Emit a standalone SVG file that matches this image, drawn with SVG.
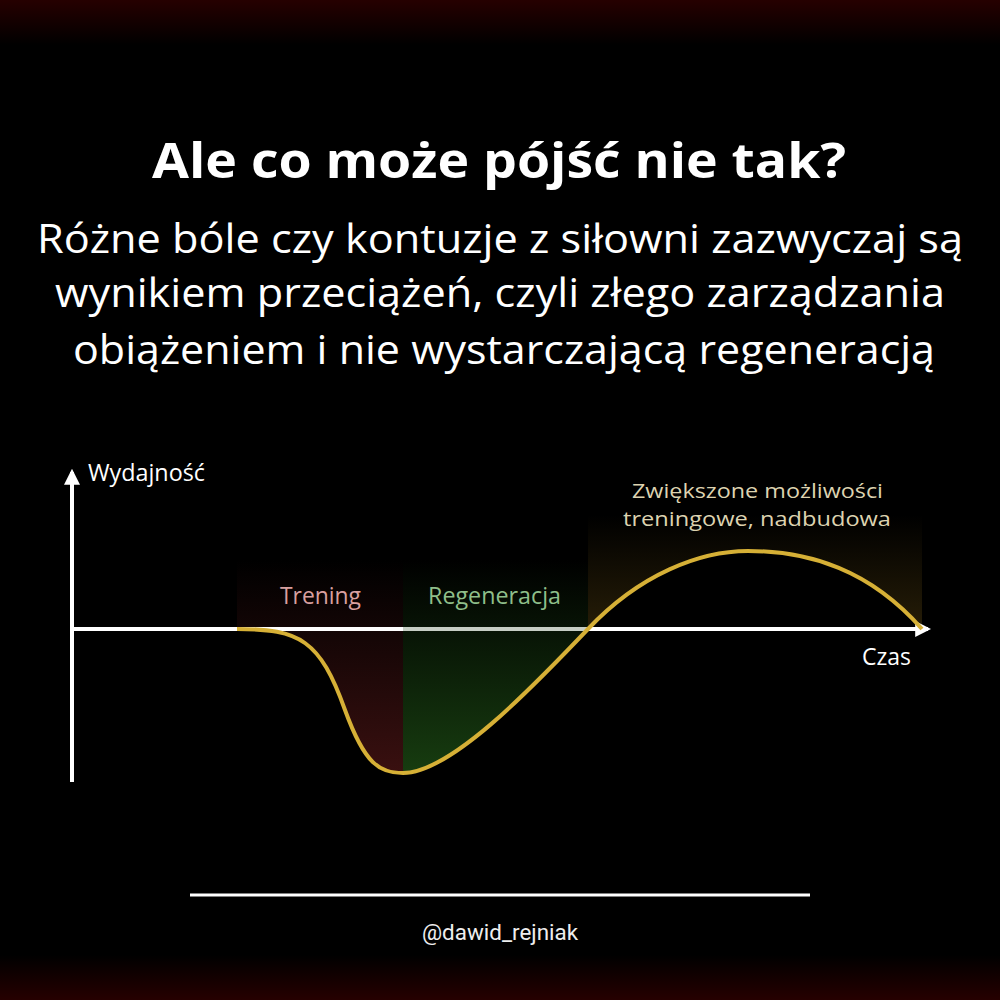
<svg xmlns="http://www.w3.org/2000/svg" width="1000" height="1000" viewBox="0 0 1000 1000">
<defs>
<linearGradient id="bg" x1="0" y1="0" x2="0" y2="1">
<stop offset="0" stop-color="#260000"/>
<stop offset="0.045" stop-color="#000"/>
<stop offset="0.955" stop-color="#000"/>
<stop offset="1" stop-color="#260000"/>
</linearGradient>
<linearGradient id="gRed" x1="0" y1="560" x2="0" y2="775" gradientUnits="userSpaceOnUse">
<stop offset="0" stop-color="#3a1010" stop-opacity="0"/>
<stop offset="1" stop-color="#3a1010" stop-opacity="1"/>
</linearGradient>
<linearGradient id="gGreen" x1="0" y1="560" x2="0" y2="775" gradientUnits="userSpaceOnUse">
<stop offset="0" stop-color="#173d10" stop-opacity="0"/>
<stop offset="1" stop-color="#173d10" stop-opacity="1"/>
</linearGradient>
<linearGradient id="gGold" x1="0" y1="515" x2="0" y2="640" gradientUnits="userSpaceOnUse">
<stop offset="0" stop-color="#2a2008" stop-opacity="0"/>
<stop offset="1" stop-color="#2a2008" stop-opacity="1"/>
</linearGradient>
<clipPath id="above">
<path d="M237,500 L237,629 C300,629 320,640 345,710 C365,765 380,773 403,773 C450,773 530,690 588,629 C640,574 700,551 748,551 C810,551 870,570 922,629 L922,500 Z"/>
</clipPath>
<marker id="arr" viewBox="0 0 10 10" refX="8" refY="5" markerWidth="4" markerHeight="4" orient="auto" markerUnits="strokeWidth">
<path d="M0,0 L10,5 L0,10 Z" fill="#fff"/>
</marker>
<style>
.t{font-family:"Open Sans","Noto Sans",sans-serif;fill:#fff}
.title{font-weight:700;font-size:49px}
.sub{font-size:40px}
.lbl{font-family:"Open Sans","Noto Sans",sans-serif;font-size:23px}
.axis{stroke:#fff;stroke-width:4;fill:none}
</style>
</defs>
<rect width="1000" height="1000" fill="url(#bg)"/>
<g id="title">
<text class="t title" x="499" y="178" text-anchor="middle" textLength="694" lengthAdjust="spacingAndGlyphs">Ale co może pójść nie tak?</text>
</g>
<g id="subtitle">
<text class="t sub" x="500" y="253" text-anchor="middle" textLength="926" lengthAdjust="spacingAndGlyphs">Różne bóle czy kontuzje z siłowni zazwyczaj są</text>
<text class="t sub" x="500" y="307" text-anchor="middle" textLength="890" lengthAdjust="spacingAndGlyphs">wynikiem przeciążeń, czyli złego zarządzania</text>
<text class="t sub" x="504" y="364" text-anchor="middle" textLength="862" lengthAdjust="spacingAndGlyphs">obiążeniem i nie wystarczającą regeneracją</text>
</g>
<g id="regions" clip-path="url(#above)">
<rect x="237" y="560" width="166" height="220" fill="url(#gRed)"/>
<rect x="403" y="560" width="185" height="220" fill="url(#gGreen)"/>
<rect x="588" y="515" width="334" height="120" fill="url(#gGold)"/>
</g>
<g id="connectors">
<line class="axis" x1="72" y1="782" x2="72" y2="472" marker-end="url(#arr)"/>
<line class="axis" x1="72" y1="629" x2="928" y2="629" marker-end="url(#arr)"/>
<rect x="403" y="627" width="185" height="4" fill="#1a3a12" opacity="0.25"/>
<path id="curve" d="M237,629 C300,629 320,640 345,710 C365,765 380,773 403,773 C450,773 530,690 588,629 C640,574 700,551 748,551 C810,551 870,570 922,629" fill="none" stroke="#d6b036" stroke-width="4"/>
</g>
<g id="labels">
<text class="lbl" x="88" y="481" fill="#fff" textLength="117" lengthAdjust="spacingAndGlyphs">Wydajność</text>
<text class="lbl" x="862" y="665" fill="#fff" textLength="49" lengthAdjust="spacingAndGlyphs">Czas</text>
<text class="lbl" x="280" y="604" fill="#d9a0a0" textLength="81" lengthAdjust="spacingAndGlyphs">Trening</text>
<text class="lbl" x="428" y="604" fill="#8fbf8a" textLength="133" lengthAdjust="spacingAndGlyphs">Regeneracja</text>
<text class="lbl" x="632" y="498" fill="#ddd3b0" style="font-size:20px" textLength="251" lengthAdjust="spacingAndGlyphs">Zwiększone możliwości</text>
<text class="lbl" x="623" y="526" fill="#ddd3b0" style="font-size:20px" textLength="268" lengthAdjust="spacingAndGlyphs">treningowe, nadbudowa</text>
</g>
<g id="footer">
<line x1="190" y1="895" x2="810" y2="895" stroke="#fff" stroke-width="3"/>
<text x="500" y="940" text-anchor="middle" font-family="Roboto,sans-serif" font-size="22" fill="#eee" textLength="156" lengthAdjust="spacingAndGlyphs">@dawid_rejniak</text>
</g>
</svg>
